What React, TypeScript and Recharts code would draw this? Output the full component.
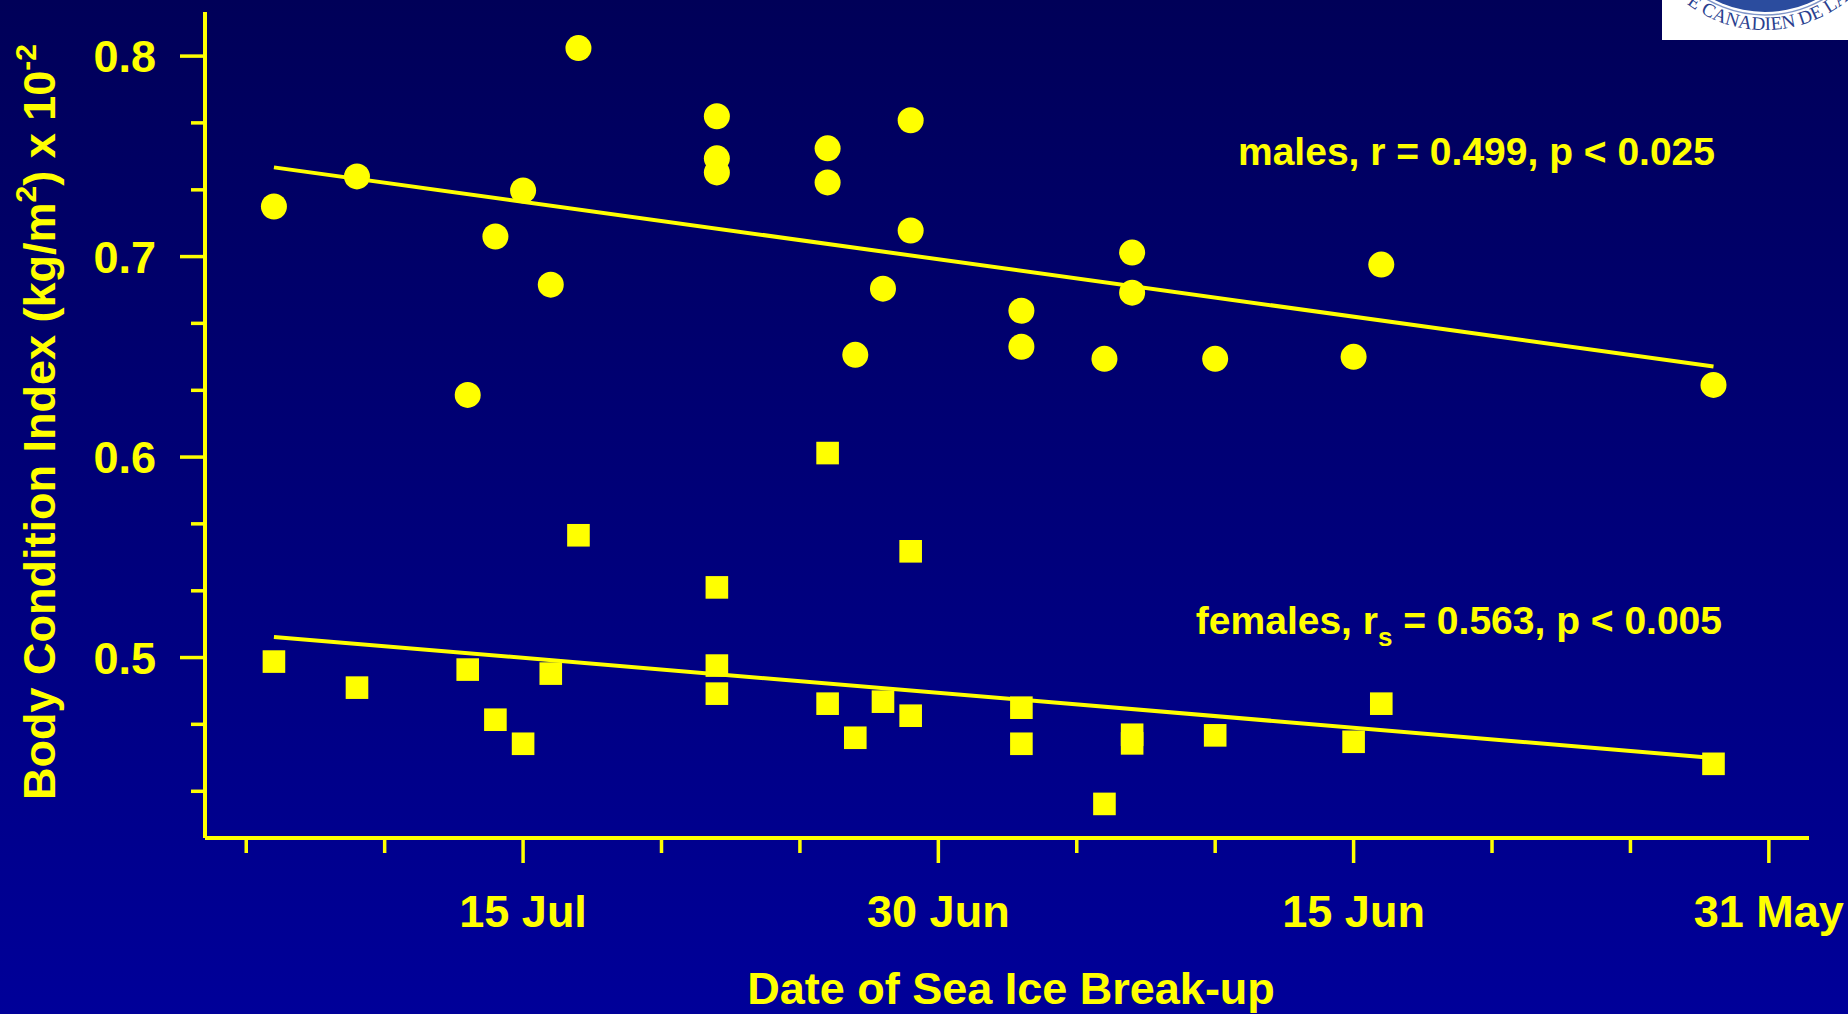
import React from "react";
import { ScatterChart, Scatter, XAxis, YAxis, ReferenceLine } from "recharts";

const YELLOW = "#ffff00";
const FONT = "'Liberation Sans', Arial, Helvetica, sans-serif";

// Break-up date as day of year (31 May = 151, 15 Jun = 166, 30 Jun = 181, 15 Jul = 196)
const maleDays = [205, 202, 198, 197, 196, 195, 194, 189, 189, 189, 185, 185, 184, 183, 182, 182, 178, 178, 175, 174, 174, 171, 166, 165, 153];
const maleBCI = [0.725, 0.740, 0.631, 0.710, 0.733, 0.686, 0.804, 0.770, 0.749, 0.742, 0.754, 0.737, 0.651, 0.684, 0.768, 0.713, 0.673, 0.655, 0.649, 0.702, 0.682, 0.649, 0.650, 0.696, 0.636];

const femaleDays = [205, 202, 198, 197, 196, 195, 194, 189, 189, 189, 185, 185, 184, 183, 182, 182, 178, 178, 175, 174, 174, 171, 166, 165, 153];
const femaleBCI = [0.498, 0.485, 0.494, 0.469, 0.457, 0.492, 0.561, 0.535, 0.496, 0.482, 0.602, 0.477, 0.460, 0.478, 0.553, 0.471, 0.475, 0.457, 0.427, 0.4615, 0.4572, 0.4612, 0.458, 0.477, 0.447];

const maleFitDays = [205, 153];
const maleFitBCI = [0.7445, 0.6452];
const femaleFitDays = [205, 153];
const femaleFitBCI = [0.5103, 0.4499];

const xTicks = [206, 201, 196, 191, 186, 181, 176, 171, 166, 161, 156, 151];
const xTickLabels = ["", "", "15 Jul", "", "", "30 Jun", "", "", "15 Jun", "", "", "31 May"];
const yTicks = [0.4333, 0.4667, 0.5, 0.5333, 0.5667, 0.6, 0.6333, 0.6667, 0.7, 0.7333, 0.7667, 0.8];
const yTickLabels = ["", "", "0.5", "", "", "0.6", "", "", "0.7", "", "", "0.8"];

const maleData = maleDays.map((d, i) => ({ day: d, bci: maleBCI[i] }));
const femaleData = femaleDays.map((d, i) => ({ day: d, bci: femaleBCI[i] }));

const XTick = (props: any) => {
  const { x, y, payload } = props;
  const idx = xTicks.indexOf(payload.value);
  const label = idx >= 0 ? xTickLabels[idx] : "";
  const major = label !== "";
  return (
    <g>
      <line x1={x} x2={x} y1={y} y2={y + (major ? 25 : 15)} stroke={YELLOW} strokeWidth={3.5} />
      {major && (
        <text x={x} y={y + 89} textAnchor="middle" fill={YELLOW} fontSize={45} fontWeight="bold" fontFamily={FONT}>
          {label}
        </text>
      )}
    </g>
  );
};

const YTick = (props: any) => {
  const { x, y, payload } = props;
  const idx = yTicks.indexOf(payload.value);
  const label = idx >= 0 ? yTickLabels[idx] : "";
  const major = label !== "";
  return (
    <g>
      <line x1={x - (major ? 25 : 14)} x2={x} y1={y} y2={y} stroke={YELLOW} strokeWidth={3.5} />
      {major && (
        <text x={x - 49} y={y + 16} textAnchor="end" fill={YELLOW} fontSize={45} fontWeight="bold" fontFamily={FONT}>
          {label}
        </text>
      )}
    </g>
  );
};

const CircleDot = (props: any) => <circle cx={props.cx} cy={props.cy} r={13} fill={YELLOW} />;
const SquareDot = (props: any) => (
  <rect x={props.cx - 11.3} y={props.cy - 11.3} width={22.6} height={22.6} fill={YELLOW} />
);

export default function App() {
  return (
    <div
      style={{
        position: "absolute",
        left: 0,
        top: 0,
        width: 1848,
        height: 1014,
        background: "linear-gradient(#000058, #000099)",
        overflow: "hidden",
      }}
    >
      <ScatterChart width={1848} height={1014} margin={{ top: 12, right: 39, bottom: 0, left: 0 }}>
        <XAxis
          dataKey="day"
          type="number"
          domain={[149.55, 207.49]}
          reversed
          ticks={xTicks}
          interval={0}
          height={176}
          tickSize={0}
          tickMargin={0}
          tickLine={false}
          tick={<XTick />}
          axisLine={{ stroke: YELLOW, strokeWidth: 4 }}
          allowDataOverflow
        />
        <YAxis
          dataKey="bci"
          type="number"
          domain={[0.41, 0.822]}
          ticks={yTicks}
          interval={0}
          width={205}
          tickSize={0}
          tickMargin={0}
          tickLine={false}
          tick={<YTick />}
          axisLine={{ stroke: YELLOW, strokeWidth: 4 }}
          allowDataOverflow
        />
        <ReferenceLine
          segment={[
            { x: maleFitDays[0], y: maleFitBCI[0] },
            { x: maleFitDays[1], y: maleFitBCI[1] },
          ]}
          stroke={YELLOW}
          strokeWidth={4}
        />
        <ReferenceLine
          segment={[
            { x: femaleFitDays[0], y: femaleFitBCI[0] },
            { x: femaleFitDays[1], y: femaleFitBCI[1] },
          ]}
          stroke={YELLOW}
          strokeWidth={4}
        />
        <Scatter name="males" data={maleData} shape={<CircleDot />} isAnimationActive={false} />
        <Scatter name="females" data={femaleData} shape={<SquareDot />} isAnimationActive={false} />
      </ScatterChart>

      <svg
        width={1848}
        height={1014}
        style={{ position: "absolute", left: 0, top: 0, pointerEvents: "none" }}
      >
        <defs>
          <clipPath id="logoClip">
            <rect x={1662} y={0} width={186} height={40} />
          </clipPath>
          <path id="logoArc" d="M 1635 -100 A 130 130 0 0 0 1895 -100" />
        </defs>
        <g clipPath="url(#logoClip)">
          <rect x={1662} y={0} width={186} height={40} fill="#ffffff" />
          <circle cx={1765} cy={-100} r={112} fill="#2b4c9e" />
          <circle cx={1765} cy={-100} r={115} fill="none" stroke="#7f95c8" strokeWidth={1.5} />
          <text fill="#2a3f8f" fontSize={19} fontFamily="'Liberation Serif', 'DejaVu Serif', serif">
            <textPath href="#logoArc" startOffset={120}>
              E CANADIEN DE LA
            </textPath>
          </text>
        </g>

        <text
          transform="rotate(-90)"
          x={-800}
          y={55}
          textAnchor="start"
          fill={YELLOW}
          fontSize={45}
          fontWeight="bold"
          fontFamily={FONT}
        >
          Body Condition Index (kg/m
          <tspan dy={-19} fontSize={30}>2</tspan>
          <tspan dy={19}>) x 10</tspan>
          <tspan dy={-19} fontSize={30}>-2</tspan>
        </text>

        <text x={1011} y={1004} textAnchor="middle" fill={YELLOW} fontSize={45} fontWeight="bold" fontFamily={FONT}>
          Date of Sea Ice Break-up
        </text>

        <text x={1715} y={165} textAnchor="end" fill={YELLOW} fontSize={39} fontWeight="bold" fontFamily={FONT}>
          {"males, r = 0.499, p < 0.025"}
        </text>

        <text x={1722} y={634} textAnchor="end" fill={YELLOW} fontSize={39} fontWeight="bold" fontFamily={FONT}>
          {"females, r"}
          <tspan dy={12} fontSize={26}>s</tspan>
          <tspan dy={-12}>{" = 0.563, p < 0.005"}</tspan>
        </text>
      </svg>
    </div>
  );
}
